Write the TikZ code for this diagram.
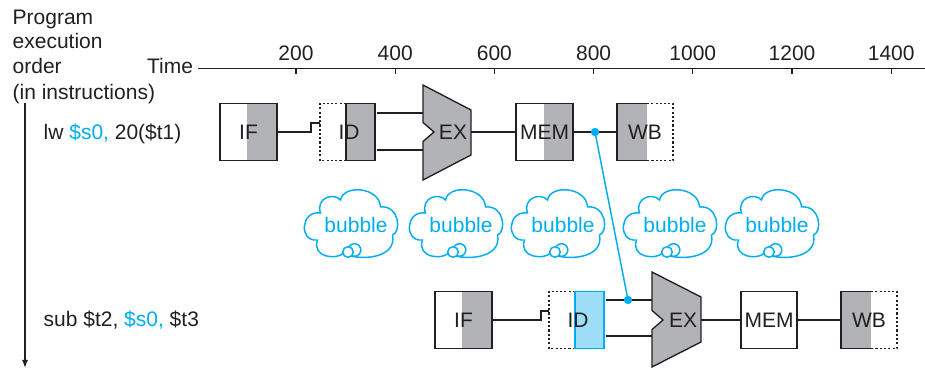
\documentclass[tikz,border=0pt]{standalone}
\usepackage{fontspec}
\setmainfont{Liberation Sans}
\usetikzlibrary{arrows.meta,calc}
\definecolor{stgray}{RGB}{178,179,182}
\definecolor{cyanb}{RGB}{0,174,239}
\definecolor{lightb}{RGB}{158,221,247}
\definecolor{ink}{RGB}{35,31,32}
\tikzset{
  lbl/.style={inner sep=0pt, anchor=base west},
  boxn/.style={minimum width=#1*0.75pt, minimum height=57*0.75pt, inner sep=0pt},
  dsh/.style={dash pattern=on 1.6pt off 1.6pt},
  blueln/.style={cyanb, line width=1.1pt},
  bub/.pic={
    \draw[blueln] (17,23) .. controls (-3,20) and (-5,52) .. (14,50)
      .. controls (8,68) and (34,70) .. (40,63)
      .. controls (52,71) and (94,70) .. (89,45)
      .. controls (98,42) and (96,15) .. (77,17)
      .. controls (76,-3) and (40,-6) .. (37,10)
      .. controls (30,2) and (12,8) .. cycle;
    \draw[blueln, fill=white] (51,60) circle (6.3);
    \draw[blueln, fill=white] (44.5,62) circle (5.3);
    \node[text=cyanb, inner sep=0pt] (-t) at (52.5,35) {bubble};
  }
}
\begin{document}
\begin{tikzpicture}[x=0.75pt, y=-0.75pt, font=\fontsize{15.75}{19}\selectfont, line width=1pt, draw=ink, text=ink]
\useasboundingbox (0,0) rectangle (925,370);

% left labels
\node[lbl] (t1) at (12,25) {Program};
\node[lbl] (t2) at (12,48.5) {execution};
\node[lbl] (t3) at (12,74) {order};
\node[lbl] (t4) at (12,100) {(in instructions)};
\node[lbl] (time) at (146.5,74) {Time};

% time axis
\coordinate (ax0) at (198,68.3);
\coordinate (ax1) at (925,68.3);
\draw (ax0) -- (ax1);
\foreach \i/\t in {0/200,1/400,2/600,3/800,4/1000,5/1200,6/1400}{
  \coordinate (tk\t) at (296+99.2*\i,68.3);
  \draw (tk\t) -- ++(0,6);
  \node[inner sep=0pt] (lb\t) at (296+99.2*\i,53) {\t};
}

% order arrow
\coordinate (arrtop) at (25,103);
\coordinate (arrbot) at (25,368);
\draw[-{Latex[length=6pt,width=4.5pt]}] (arrtop) -- (arrbot);

% instructions
\node[lbl] (i1) at (43,140) {lw \textcolor{cyanb}{\$s0,} 20(\$t1)};
\node[lbl] (i2) at (43,327) {sub \$t2, \textcolor{cyanb}{\$s0,} \$t3};

% ---------- row 1 ----------
\fill[stgray] (247,103.5) rectangle (277,160.5);
\node[draw, boxn=57] (if1) at (248.5,132) {IF};

\fill[stgray] (346,103.5) rectangle (375,160.5);
\draw[dsh] (346,103.5) -- (320,103.5) -- (320,160.5) -- (346,160.5);
\draw (346,103.5) rectangle (375,160.5);
\node[boxn=55] (id1) at (349,132) {ID};

\draw[fill=stgray] (423,85) -- (471,110) -- (471,155) -- (423,180) -- (423,141.5) -- (434,132) -- (423,122.5) -- cycle;
\node[inner sep=0pt] (ex1) at (453,132) {EX};
\coordinate (ex1a) at (423,113);
\coordinate (ex1b) at (423,150);
\coordinate (ex1o) at (471,132);

\fill[stgray] (544,103.5) rectangle (573,160.5);
\node[draw, boxn=57] (mem1) at (544.5,132) {MEM};

\fill[stgray] (617,103.5) rectangle (647,160.5);
\draw[dsh] (647,103.5) -- (673,103.5) -- (673,160.5) -- (647,160.5);
\draw (647,103.5) -- (617,103.5) -- (617,160.5) -- (647,160.5);
\node[boxn=56] (wb1) at (645,132) {WB};

\draw (if1.east) -- (311,132) -- (311,123) -- (320,123);
\draw (id1.east |- ex1a) -- (ex1a);
\draw (id1.east |- ex1b) -- (ex1b);
\draw (ex1o) -- (mem1.west);
\draw (mem1.east) -- (wb1.west);

% ---------- bubbles ----------
\pic (b1) at (303.5,190) {bub};
\pic (b2) at (408.5,190) {bub};
\pic (b3) at (510.5,190) {bub};
\pic (b4) at (622.5,190) {bub};
\pic (b5) at (724.5,190) {bub};

% ---------- row 2 ----------
\fill[stgray] (462,291.5) rectangle (492,348.5);
\node[draw, boxn=57] (if2) at (463.5,320) {IF};

\fill[lightb] (575,291.5) rectangle (604,348.5);
\draw[dsh] (575,291.5) -- (549,291.5) -- (549,348.5) -- (575,348.5);
\draw[cyanb, line width=1.1pt] (575,291.5) rectangle (604,348.5);
\node[boxn=55] (id2) at (578,320) {ID};

\draw[fill=stgray] (652,272) -- (701,297) -- (701,342) -- (652,367) -- (652,329.5) -- (663,320) -- (652,310.5) -- cycle;
\node[inner sep=0pt] (ex2) at (683,320) {EX};
\coordinate (ex2a) at (652,300);
\coordinate (ex2b) at (652,336);
\coordinate (ex2o) at (701,320);

\node[draw, boxn=56] (mem2) at (769,320) {MEM};

\fill[stgray] (841,291.5) rectangle (871,348.5);
\draw[dsh] (871,291.5) -- (897,291.5) -- (897,348.5) -- (871,348.5);
\draw (871,291.5) -- (841,291.5) -- (841,348.5) -- (871,348.5);
\node[boxn=56] (wb2) at (869,320) {WB};

\draw (if2.east) -- (541,320) -- (541,311) -- (549,311);
\draw (id2.east |- ex2a) -- (ex2a);
\draw (id2.east |- ex2b) -- (ex2b);
\draw (ex2o) -- (mem2.west);
\draw (mem2.east) -- (wb2.west);

% ---------- forwarding ----------
\coordinate (d1) at (595,132);
\coordinate (d2) at (628,300);
\draw[blueln] (d1) -- (d2);
\fill[cyanb] (d1) circle (4.2);
\fill[cyanb] (d2) circle (4.2);
\end{tikzpicture}
\end{document}
